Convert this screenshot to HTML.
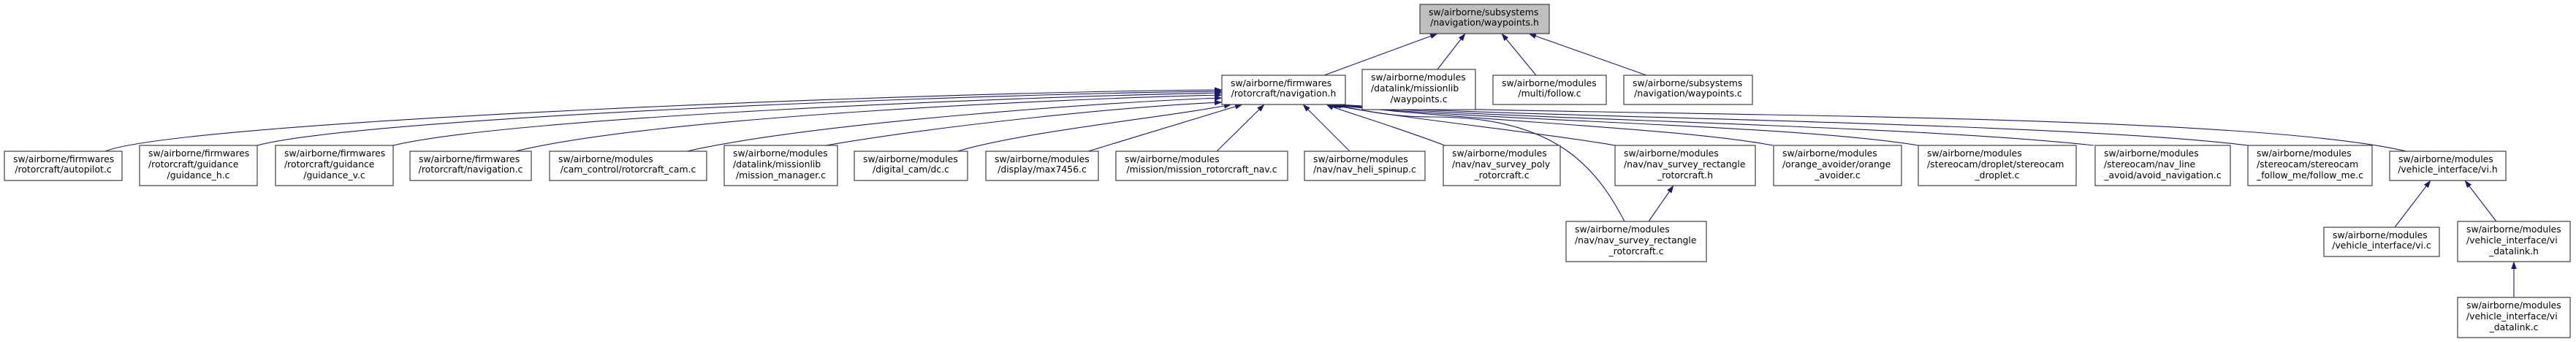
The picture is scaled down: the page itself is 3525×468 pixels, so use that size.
<!DOCTYPE html>
<html><head><meta charset="utf-8"><style>
html,body{margin:0;padding:0;background:#fff;}
svg{display:block;}
text{font-family:"DejaVu Sans","Liberation Sans",sans-serif;font-size:12.4px;fill:#000;}
</style></head><body>
<svg width="3525" height="468" viewBox="0 0 3525 468" xmlns="http://www.w3.org/2000/svg">
<defs>
<marker id="a" markerWidth="11" markerHeight="8" refX="10" refY="3.75" orient="auto" markerUnits="userSpaceOnUse">
<path d="M0,0 L10.5,3.75 L0,7.5 z" fill="#191970"/>
</marker>
</defs>
<g fill="none" stroke="#191970" stroke-width="1.1" marker-end="url(#a)">
<path d="M1812,103 L1967,46"/>
<path d="M1967,95 L2005,46"/>
<path d="M2102,103 L2055,46"/>
<path d="M2253,103 L2092,46"/>
<path d="M144,207 C250,165 1300,125 1672,123"/>
<path d="M352,199 C500,160 1350,128 1672,125"/>
<path d="M538,199 C700,160 1400,132 1672,127"/>
<path d="M705,207 C900,160 1450,135 1672,130"/>
<path d="M940,207 C1100,170 1500,140 1672,134"/>
<path d="M1130,199 C1300,170 1550,145 1672,140"/>
<path d="M1310,207 C1400,180 1600,160 1685,143"/>
<path d="M1489,207 L1700,143"/>
<path d="M1665,207 L1730,143"/>
<path d="M1847,207 L1783,143"/>
<path d="M1977,199 C1900,170 1830,150 1815,143"/>
<path d="M2210,199 C2100,180 1900,160 1820,143"/>
<path d="M2426,199 C2300,175 2000,165 1822,143"/>
<path d="M2625,199 C2450,170 2000,165 1824,143"/>
<path d="M2865,199 C2600,170 2000,162 1826,143"/>
<path d="M3076,199 C2800,165 2000,160 1828,143"/>
<path d="M3293,207 C3050,150 2100,160 1830,143"/>
<path d="M2223,303 C2180,220 2120,160 1960,160 C1900,160 1860,150 1825,143"/>
<path d="M2256,303 L2290,254"/>
<path d="M3277,311 L3326,247"/>
<path d="M3416,303 L3373,247"/>
<path d="M3440,407 L3440,358"/>
</g>
<g stroke="#404040" stroke-width="1.2" fill="#fff">
<rect x="1943" y="6" width="177" height="40" fill="#bfbfbf"/>
<rect x="1672" y="103" width="169" height="40"/>
<rect x="1864" y="95" width="155" height="55"/>
<rect x="2043" y="103" width="155" height="40"/>
<rect x="2222" y="103" width="176" height="40"/>
<rect x="6" y="207" width="161" height="40"/>
<rect x="191" y="199" width="161" height="55"/>
<rect x="377" y="199" width="161" height="55"/>
<rect x="561" y="207" width="166" height="40"/>
<rect x="752" y="207" width="215" height="40"/>
<rect x="991" y="199" width="155" height="55"/>
<rect x="1169" y="207" width="155" height="40"/>
<rect x="1349" y="207" width="154" height="40"/>
<rect x="1527" y="207" width="235" height="40"/>
<rect x="1785" y="207" width="165" height="40"/>
<rect x="1975" y="199" width="160" height="55"/>
<rect x="2210" y="199" width="192" height="55"/>
<rect x="2427" y="199" width="175" height="55"/>
<rect x="2625" y="199" width="216" height="55"/>
<rect x="2867" y="199" width="185" height="55"/>
<rect x="3076" y="199" width="170" height="55"/>
<rect x="3270" y="207" width="159" height="40"/>
<rect x="3180" y="311" width="158" height="40"/>
<rect x="3363" y="303" width="154" height="55"/>
<rect x="3363" y="407" width="154" height="55"/>
<rect x="2143" y="303" width="192" height="55"/>
</g>
<g>
<text x="1955" y="21">sw/airborne/subsystems</text><text x="2031.5" y="35" text-anchor="middle">/navigation/waypoints.h</text>
<text x="1684" y="118">sw/airborne/firmwares</text><text x="1756.5" y="132" text-anchor="middle">/rotorcraft/navigation.h</text>
<text x="1876" y="110">sw/airborne/modules</text><text x="1876" y="125">/datalink/missionlib</text><text x="1941.5" y="140" text-anchor="middle">/waypoints.c</text>
<text x="2055" y="118">sw/airborne/modules</text><text x="2120.5" y="132" text-anchor="middle">/multi/follow.c</text>
<text x="2234" y="118">sw/airborne/subsystems</text><text x="2310" y="132" text-anchor="middle">/navigation/waypoints.c</text>
<text x="18" y="222">sw/airborne/firmwares</text><text x="86.5" y="236" text-anchor="middle">/rotorcraft/autopilot.c</text>
<text x="203" y="214">sw/airborne/firmwares</text><text x="203" y="229">/rotorcraft/guidance</text><text x="271.5" y="244" text-anchor="middle">/guidance_h.c</text>
<text x="389" y="214">sw/airborne/firmwares</text><text x="389" y="229">/rotorcraft/guidance</text><text x="457.5" y="244" text-anchor="middle">/guidance_v.c</text>
<text x="573" y="222">sw/airborne/firmwares</text><text x="644" y="236" text-anchor="middle">/rotorcraft/navigation.c</text>
<text x="764" y="222">sw/airborne/modules</text><text x="859.5" y="236" text-anchor="middle">/cam_control/rotorcraft_cam.c</text>
<text x="1003" y="214">sw/airborne/modules</text><text x="1003" y="229">/datalink/missionlib</text><text x="1068.5" y="244" text-anchor="middle">/mission_manager.c</text>
<text x="1181" y="222">sw/airborne/modules</text><text x="1246.5" y="236" text-anchor="middle">/digital_cam/dc.c</text>
<text x="1361" y="222">sw/airborne/modules</text><text x="1426" y="236" text-anchor="middle">/display/max7456.c</text>
<text x="1539" y="222">sw/airborne/modules</text><text x="1644.5" y="236" text-anchor="middle">/mission/mission_rotorcraft_nav.c</text>
<text x="1797" y="222">sw/airborne/modules</text><text x="1867.5" y="236" text-anchor="middle">/nav/nav_heli_spinup.c</text>
<text x="1987" y="214">sw/airborne/modules</text><text x="1987" y="229">/nav/nav_survey_poly</text><text x="2055" y="244" text-anchor="middle">_rotorcraft.c</text>
<text x="2222" y="214">sw/airborne/modules</text><text x="2222" y="229">/nav/nav_survey_rectangle</text><text x="2306" y="244" text-anchor="middle">_rotorcraft.h</text>
<text x="2439" y="214">sw/airborne/modules</text><text x="2439" y="229">/orange_avoider/orange</text><text x="2514.5" y="244" text-anchor="middle">_avoider.c</text>
<text x="2637" y="214">sw/airborne/modules</text><text x="2637" y="229">/stereocam/droplet/stereocam</text><text x="2733" y="244" text-anchor="middle">_droplet.c</text>
<text x="2879" y="214">sw/airborne/modules</text><text x="2879" y="229">/stereocam/nav_line</text><text x="2959.5" y="244" text-anchor="middle">_avoid/avoid_navigation.c</text>
<text x="3088" y="214">sw/airborne/modules</text><text x="3088" y="229">/stereocam/stereocam</text><text x="3161" y="244" text-anchor="middle">_follow_me/follow_me.c</text>
<text x="3282" y="222">sw/airborne/modules</text><text x="3349.5" y="236" text-anchor="middle">/vehicle_interface/vi.h</text>
<text x="3192" y="326">sw/airborne/modules</text><text x="3259" y="340" text-anchor="middle">/vehicle_interface/vi.c</text>
<text x="3375" y="318">sw/airborne/modules</text><text x="3375" y="333">/vehicle_interface/vi</text><text x="3440" y="348" text-anchor="middle">_datalink.h</text>
<text x="3375" y="422">sw/airborne/modules</text><text x="3375" y="437">/vehicle_interface/vi</text><text x="3440" y="452" text-anchor="middle">_datalink.c</text>
<text x="2155" y="318">sw/airborne/modules</text><text x="2155" y="333">/nav/nav_survey_rectangle</text><text x="2239" y="348" text-anchor="middle">_rotorcraft.c</text>
</g>
</svg>
</body></html>
